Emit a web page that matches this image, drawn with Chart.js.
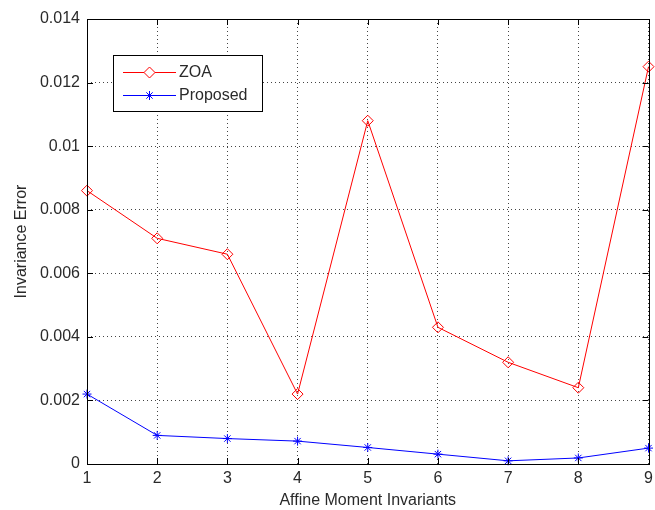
<!DOCTYPE html>
<html>
<head>
<meta charset="utf-8">
<script src="https://cdn.jsdelivr.net/npm/chart.js@4.4.1/dist/chart.umd.min.js"></script>
<style>
  html,body{margin:0;padding:0;background:#fff;}
  #wrap{width:655px;height:510px;}
</style>
</head>
<body>
<div id="wrap"><canvas id="c" width="655" height="510"></canvas></div>
<script>
const invariants = ['1','2','3','4','5','6','7','8','9'];
const zoaErr = [0.0086, 0.0071, 0.0066, 0.0022, 0.0108, 0.0043, 0.0032, 0.0024, 0.0125];
const proposedErr = [0.0022, 0.0009, 0.0008, 0.00072, 0.00052, 0.00031, 0.0001, 0.00019, 0.0005];
const yTicks = [0, 0.002, 0.004, 0.006, 0.008, 0.01, 0.012, 0.014];

const FONT = 'Liberation Sans, Arial, sans-serif';
const TXT = '#2a2a2a';

// legend box drawn inside the axes, matlab style
const boxLegend = {
  id: 'boxLegend',
  afterDraw(chart){
    const {ctx} = chart;
    const x0 = 113, y0 = 55, w = 149, h = 56;
    ctx.save();
    ctx.fillStyle = '#fff';
    ctx.fillRect(x0, y0, w, h);
    ctx.strokeStyle = '#000'; ctx.lineWidth = 1;
    ctx.strokeRect(x0 + .5, y0 + .5, w, h);
    chart.data.datasets.forEach((ds, i) => {
      const y = 72 + i * 23;
      ctx.strokeStyle = ds.borderColor;
      ctx.beginPath(); ctx.moveTo(123, y + .5); ctx.lineTo(176, y + .5); ctx.stroke();
      Chart.helpers.drawPoint(ctx, {
        pointStyle: ds.pointStyle, radius: ds.pointRadius, borderWidth: 1,
        rotation: 0
      }, 149.5, y + .5);
      ctx.fillStyle = TXT;
      ctx.font = '16px ' + FONT;
      ctx.textBaseline = 'middle';
      ctx.fillText(ds.label, 179, y + 1);
    });
    ctx.restore();
  }
};

// inward tick marks on all four sides + black frame
const frame = {
  id: 'frame',
  afterDatasetsDraw(chart){
    const {ctx, chartArea: a, scales: {x, y}} = chart;
    const L = 6;
    ctx.save();
    ctx.strokeStyle = '#000'; ctx.lineWidth = 1;
    ctx.beginPath();
    invariants.forEach((_, i) => {
      const px = Math.round(x.getPixelForValue(i)) + .5;
      ctx.moveTo(px, a.bottom); ctx.lineTo(px, a.bottom - L);
      ctx.moveTo(px, a.top); ctx.lineTo(px, a.top + L);
    });
    yTicks.forEach(v => {
      const py = Math.round(y.getPixelForValue(v)) + .5;
      ctx.moveTo(a.left, py); ctx.lineTo(a.left + L, py);
      ctx.moveTo(a.right, py); ctx.lineTo(a.right - L, py);
    });
    ctx.stroke();
    ctx.strokeRect(Math.round(a.left) + .5, Math.round(a.top) + .5,
      Math.round(a.right - a.left), Math.round(a.bottom - a.top));
    ctx.restore();
  }
};

new Chart(document.getElementById('c'), {
  type: 'line',
  data: {
    labels: invariants,
    datasets: [
      { label: 'ZOA', data: zoaErr, borderColor: '#ff0000', backgroundColor: 'rgba(0,0,0,0)',
        borderWidth: 1, pointStyle: 'rectRot', pointRadius: 5.5, pointBorderWidth: 1,
        pointBorderColor: '#ff0000', pointBackgroundColor: 'rgba(0,0,0,0)', tension: 0 },
      { label: 'Proposed', data: proposedErr, borderColor: '#0000ff', backgroundColor: '#0000ff',
        borderWidth: 1, pointStyle: 'star', pointRadius: 4.5, pointBorderWidth: 1,
        pointBorderColor: '#0000ff', tension: 0 }
    ]
  },
  options: {
    responsive: false,
    animation: false,
    clip: false,
    layout: { padding: { top: 19, right: 3, left: 0, bottom: 0 } },
    plugins: { legend: { display: false }, tooltip: { enabled: false } },
    scales: {
      x: {
        offset: false,
        grid: { offset: false, color: '#444', lineWidth: 1, drawTicks: false },
        border: { display: false, dash: [1, 3] },
        ticks: { color: TXT, font: { family: FONT, size: 16 }, padding: 5, maxRotation: 0 },
        title: { display: true, text: 'Affine Moment Invariants', color: TXT,
          font: { family: FONT, size: 16 }, padding: { top: 0, bottom: 0 } },
        afterFit(s){ s.height = 46; s.paddingLeft = 0; s.paddingRight = 0; }
      },
      y: {
        min: 0, max: 0.014,
        afterBuildTicks(s){ s.ticks = yTicks.map(v => ({ value: v })); },
        grid: { color: '#444', lineWidth: 1, drawTicks: false },
        border: { display: false, dash: [1, 3] },
        ticks: { color: TXT, font: { family: FONT, size: 16 }, padding: 7,
          callback: v => String(+v.toFixed(3)) },
        title: { display: true, text: 'Invariance Error', color: TXT,
          font: { family: FONT, size: 16 }, padding: { top: 12, bottom: 0 } },
        afterFit(s){ s.width = 87; s.paddingTop = 0; s.paddingBottom = 0; }
      }
    }
  },
  plugins: [frame, boxLegend]
});
</script>
</body>
</html>
